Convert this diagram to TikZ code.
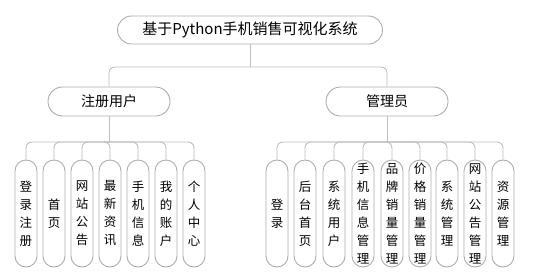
\documentclass[tikz,border=0pt]{standalone}
\usepackage{fontspec}
\newfontfamily\cjk{Noto Sans CJK SC}
\begin{document}
\begin{tikzpicture}[x=1pt,y=-1pt,
  boxline/.style={draw=black!32,line width=0.9pt,fill=white,inner sep=0pt},
  rootbox/.style={boxline,minimum width=265pt,minimum height=28pt,rounded corners=14pt,font=\cjk\fontsize{15}{18}\selectfont},
  midbox/.style={boxline,minimum width=122pt,minimum height=29pt,rounded corners=14.5pt,font=\cjk\fontsize{14}{17}\selectfont},
  leafbox/.style={boxline,minimum width=22pt,minimum height=107pt,rounded corners=11pt,align=center,font=\cjk\fontsize{12.5}{18}\selectfont},
  conn/.style={draw=black!25,line width=0.9pt,rounded corners=6pt}]
\useasboundingbox (0,0) rectangle (534,276);
\node[rootbox] (root) at (250,30) {基于Python手机销售可视化系统};
\node[midbox] (reg) at (109,101.5) {注册用户};
\node[midbox] (adm) at (387,101.5) {管理员};
\coordinate (rootbar) at (250,67);
\coordinate (regbar) at (109,142);
\coordinate (admbar) at (387,142);
% left leaves
\node[leafbox] (l1) at (26,213.5) {登\\录\\注\\册};
\node[leafbox] (l2) at (54,213.5) {首\\页};
\node[leafbox] (l3) at (82,213.5) {网\\站\\公\\告};
\node[leafbox] (l4) at (110,213.5) {最\\新\\资\\讯};
\node[leafbox] (l5) at (138,213.5) {手\\机\\信\\息};
\node[leafbox] (l6) at (166,213.5) {我\\的\\账\\户};
\node[leafbox] (l7) at (194,213.5) {个\\人\\中\\心};
% right leaves
\node[leafbox] (r1) at (277,213.5) {登\\录};
\node[leafbox] (r2) at (305,213.5) {后\\台\\首\\页};
\node[leafbox] (r3) at (334,213.5) {系\\统\\用\\户};
\node[leafbox] (r4) at (363,213.5) {手\\机\\信\\息\\管\\理};
\node[leafbox] (r5) at (392,213.5) {品\\牌\\销\\量\\管\\理};
\node[leafbox] (r6) at (420,213.5) {价\\格\\销\\量\\管\\理};
\node[leafbox] (r7) at (447,213.5) {系\\统\\管\\理};
\node[leafbox] (r8) at (475,213.5) {网\\站\\公\\告\\管\\理};
\node[leafbox] (r9) at (503,213.5) {资\\源\\管\\理};
% connectors
\draw[conn] (root.south) -- (rootbar);
\draw[conn] (rootbar) -| (reg.north);
\draw[conn] (rootbar) -| (adm.north);
\draw[conn] (reg.south) -- (regbar);
\foreach \n in {l1,l2,l3,l4,l5,l6,l7} \draw[conn] (regbar) -| (\n.north);
\draw[conn] (adm.south) -- (admbar);
\foreach \n in {r1,r2,r3,r4,r5,r6,r7,r8,r9} \draw[conn] (admbar) -| (\n.north);
\end{tikzpicture}
\end{document}
